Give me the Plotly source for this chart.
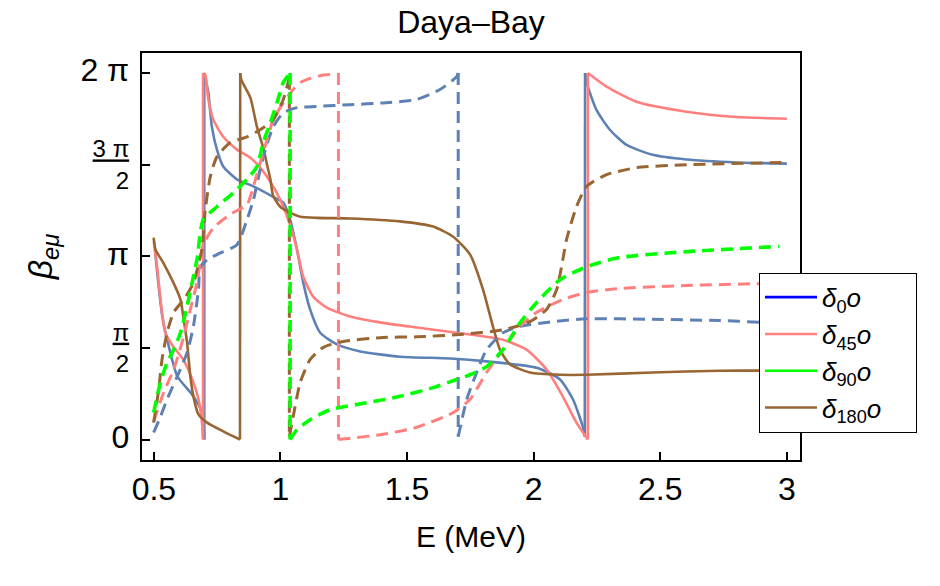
import numpy as np
import plotly.graph_objects as go

PI = np.pi

# ---------------- data (E in MeV, beta in radians) ----------------
d0_solid_x = [0.504, 0.518, 0.534, 0.557, 0.593, 0.644, 0.676, 0.693, 0.699,
              0.699, 0.703, 0.715, 0.729, 0.749, 0.774, 0.828, 0.893, 0.971, 1.011, 1.038,
              1.065, 1.090, 1.117, 1.157, 1.223, 1.315, 1.472, 1.670, 1.814, 2.012, 2.104,
              2.155, 2.194, 2.202,
              2.203, 2.214, 2.248, 2.301, 2.367, 2.470, 2.603, 2.801, 3.0]
d0_solid_y = [3.26, 2.66, 2.09, 1.63, 1.08, 0.81, 0.60, 0.43, 0.0,
              6.283, 6.20, 5.95, 5.36, 4.97, 4.68, 4.46, 4.34, 4.16, 4.06, 3.77,
              3.26, 2.69, 2.23, 1.83, 1.63, 1.51, 1.42, 1.39, 1.34, 1.23, 1.03,
              0.69, 0.22, 0.05,
              6.283, 6.05, 5.65, 5.31, 5.05, 4.88, 4.80, 4.75, 4.73]

d45_solid_x = [0.500, 0.514, 0.526, 0.545, 0.577, 0.616, 0.656, 0.676, 0.690, 0.694,
               0.694, 0.703, 0.715, 0.735, 0.774, 0.828, 0.881, 0.920, 0.960, 0.999, 1.038,
               1.065, 1.090, 1.129, 1.183, 1.275, 1.405, 1.538, 1.749, 1.879, 1.972, 2.051,
               2.115, 2.169, 2.214,
               2.214, 2.288, 2.406, 2.603, 2.801, 3.0]
d45_solid_y = [3.39, 2.91, 2.40, 1.83, 1.59, 1.37, 0.98, 0.69, 0.29, 0.0,
               6.283, 6.25, 5.83, 5.48, 5.19, 4.97, 4.83, 4.66, 4.42, 4.11, 3.68,
               3.26, 2.79, 2.45, 2.26, 2.11, 2.00, 1.92, 1.80, 1.71, 1.54, 1.20,
               0.74, 0.29, 0.0,
               6.283, 6.05, 5.79, 5.62, 5.53, 5.50]

d180_solid_x = [0.499, 0.506, 0.537, 0.577, 0.605, 0.616, 0.631, 0.644, 0.656, 0.676,
                0.710, 0.774, 0.840,
                0.841, 0.845, 0.881, 0.907, 0.932, 0.947, 0.960, 0.971, 0.999, 1.038,
                1.078, 1.144, 1.275, 1.472, 1.603, 1.681, 1.749, 1.800, 1.839, 1.867,
                1.906, 1.985, 2.104, 2.209, 2.470, 2.735, 3.0]
d180_solid_y = [3.46, 3.26, 3.03, 2.69, 2.40, 2.11, 1.66, 1.08, 0.74, 0.43,
                0.29, 0.14, 0.0,
                6.283, 6.17, 5.86, 5.36, 5.00, 4.71, 4.46, 4.18, 3.99, 3.89,
                3.82, 3.80, 3.79, 3.74, 3.65, 3.48, 3.17, 2.57, 1.94, 1.54,
                1.29, 1.15, 1.11, 1.11, 1.15, 1.18, 1.18]

d0_dash_x = [0.499, 0.526, 0.552, 0.592, 0.631, 0.656, 0.676, 0.683, 0.710, 0.749,
             0.828, 0.868, 0.893, 0.920, 0.940, 0.971, 1.011, 1.065, 1.144, 1.275,
             1.405, 1.538, 1.630, 1.696, 1.702,
             1.702, 1.736, 1.775, 1.814, 1.879, 1.946, 2.076, 2.209, 2.470, 2.735,
             2.893, 3.0]
d0_dash_y = [0.12, 0.39, 0.69, 1.08, 1.49, 1.94, 2.57, 2.95, 3.08, 3.17,
             3.34, 3.77, 4.11, 4.63, 4.97, 5.36, 5.60, 5.69, 5.71, 5.74,
             5.77, 5.83, 6.00, 6.22, 6.283,
             0.05, 0.69, 1.15, 1.54, 1.83, 1.94, 2.02, 2.07, 2.06, 2.04,
             2.01, 2.00]

d45_dash_x = [0.499, 0.539, 0.578, 0.611, 0.644, 0.670, 0.695, 0.735, 0.802, 0.868,
              0.893, 0.920, 0.947, 0.971, 1.011, 1.050, 1.078, 1.104, 1.169, 1.228, 1.229,
              1.229, 1.275, 1.405, 1.538, 1.681, 1.749, 1.814, 1.879, 1.946, 2.012,
              2.115, 2.209, 2.340, 2.603, 2.865, 3.0]
d45_dash_y = [0.31, 0.81, 1.20, 1.66, 2.23, 2.69, 3.34, 3.63, 3.86, 4.03,
              4.34, 4.75, 5.14, 5.48, 5.77, 6.00, 6.12, 6.17, 6.25, 6.27, 6.283,
              0.0, 0.02, 0.09, 0.21, 0.46, 0.69, 1.15, 1.54, 1.94, 2.18,
              2.40, 2.52, 2.59, 2.64, 2.67, 2.69]

d90_dash_x = [0.499, 0.526, 0.552, 0.578, 0.605, 0.631, 0.651, 0.670, 0.695, 0.749,
              0.814, 0.868, 0.907, 0.932, 0.960, 0.986, 1.011, 1.038,
              1.038, 1.065, 1.117, 1.196, 1.341, 1.472, 1.603, 1.696, 1.749, 1.814,
              1.879, 1.946, 2.012, 2.104, 2.209, 2.340, 2.603, 2.970]
d90_dash_y = [0.46, 0.98, 1.32, 1.54, 1.83, 2.28, 2.69, 3.08, 3.77, 3.99,
              4.23, 4.46, 4.68, 5.09, 5.43, 5.77, 6.12, 6.283,
              0.0, 0.17, 0.34, 0.51, 0.63, 0.74, 0.89, 1.03, 1.11, 1.25,
              1.54, 2.00, 2.35, 2.74, 2.96, 3.12, 3.22, 3.31]

d180_dash_x = [0.499, 0.519, 0.532, 0.552, 0.578, 0.618, 0.657, 0.677, 0.690, 0.703,
               0.723, 0.749, 0.802, 0.868, 0.920, 0.971, 1.011, 1.035,
               1.035, 1.050, 1.078, 1.117, 1.169, 1.248, 1.405, 1.538, 1.709, 1.879,
               1.985, 2.051, 2.091, 2.115, 2.130, 2.169, 2.209, 2.288, 2.406, 2.603, 3.0]
d180_dash_y = [0.29, 0.86, 1.37, 1.83, 2.18, 2.40, 2.69, 3.03, 3.26, 3.94,
               4.51, 4.85, 5.09, 5.19, 5.31, 5.48, 5.83, 6.20,
               0.05, 0.39, 0.98, 1.37, 1.58, 1.68, 1.75, 1.76, 1.80, 1.88,
               2.02, 2.23, 2.57, 3.08, 3.43, 3.99, 4.34, 4.54, 4.66, 4.71, 4.75]

legend_names = ["<i>δ</i><sub>0</sub><i>o</i>",
                "<i>δ</i><sub>45</sub><i>o</i>",
                "<i>δ</i><sub>90</sub><i>o</i>",
                "<i>δ</i><sub>180</sub><i>o</i>"]
legend_colors = ["#0000FF", "#FF8080", "#00FF00", "#996633"]

x_ticks = [0.5, 1, 1.5, 2, 2.5, 3]
x_ticktext = ["0.5", "1", "1.5", "2", "2.5", "3"]
y_ticks = [0, PI / 2, PI, 3 * PI / 2, 2 * PI]
y_ticktext = ['<span style="font-size:32px">0</span>',
              "<u>π</u><br>2",
              '<span style="font-size:32px">π</span>',
              "<u>3 π</u><br>2",
              '<span style="font-size:32px">2 π</span>']

BLUE = "#5E81B5"
PINK = "#FF7F7F"
GREEN = "#00FF00"
BROWN = "#996633"
DASH = "12px,7px"

fig = go.Figure()


def add(x, y, color, dash, width):
    # split the branch at the wrap-around jumps; smooth each branch,
    # and join the branches with straight vertical connectors
    sx, sy, cx, cy = [], [], [], []
    for i in range(len(x)):
        if i > 0 and abs(y[i] - y[i - 1]) > 4:
            sx.append(None)
            sy.append(None)
            cx += [x[i - 1], x[i], None]
            cy += [y[i - 1], y[i], None]
        sx.append(x[i])
        sy.append(y[i])
    fig.add_trace(go.Scatter(x=sx, y=sy, mode="lines", showlegend=False,
                             line=dict(color=color, dash=dash, width=width,
                                       shape="spline", smoothing=0.6),
                             connectgaps=False, hoverinfo="skip"))
    fig.add_trace(go.Scatter(x=cx, y=cy, mode="lines", showlegend=False,
                             line=dict(color=color, dash=dash, width=width),
                             connectgaps=False, hoverinfo="skip"))


add(d0_solid_x, d0_solid_y, BLUE, "solid", 2.6)
add(d45_solid_x, d45_solid_y, PINK, "solid", 2.6)
add(d180_solid_x, d180_solid_y, BROWN, "solid", 2.6)
add(d0_dash_x, d0_dash_y, BLUE, DASH, 3)
add(d45_dash_x, d45_dash_y, PINK, DASH, 3)
add(d180_dash_x, d180_dash_y, BROWN, DASH, 3)
add(d90_dash_x, d90_dash_y, GREEN, DASH, 3.6)

for name, col in zip(legend_names, legend_colors):
    fig.add_trace(go.Scatter(x=[None], y=[None], mode="lines",
                             name=name + "&nbsp;&nbsp;&nbsp;&nbsp;",
                             line=dict(color=col, width=2.6)))

FONT = "Liberation Sans, Arial, sans-serif"

fig.update_layout(
    width=940, height=586,
    margin=dict(l=142, r=140, t=53, b=126),
    paper_bgcolor="white", plot_bgcolor="white",
    font=dict(family=FONT, color="black", size=32),
    title=dict(text="Daya‒Bay", x=0.5, xref="paper", xanchor="center",
               y=1 - 22 / 586, yanchor="middle", font=dict(size=32)),
    showlegend=True,
    legend=dict(x=(759 - 142) / 658, y=(460.5 - 273) / 407.5, xanchor="left", yanchor="top",
                bgcolor="white", bordercolor="black", borderwidth=1,
                font=dict(size=26), itemwidth=52, tracegroupgap=0),
    xaxis=dict(range=[0.453, 3.052], tickvals=x_ticks, ticktext=x_ticktext,
               showline=True, linecolor="black", linewidth=2, mirror=True,
               ticks="inside", ticklen=8, tickwidth=1.5, tickcolor="black",
               showgrid=False, zeroline=False,
               title=dict(text="E (MeV)", font=dict(size=30), standoff=20)),
    yaxis=dict(range=[-0.351, 6.626], tickvals=y_ticks, ticktext=y_ticktext,
               tickfont=dict(size=24),
               showline=True, linecolor="black", linewidth=2, mirror=True,
               ticks="inside", ticklen=8, tickwidth=1.5, tickcolor="black",
               showgrid=False, zeroline=False, ticklabelstandoff=6,
               title=dict(text="<i>β<sub>eμ</sub></i>", font=dict(size=34), standoff=18)),
)

fig.write_html("out.html")
